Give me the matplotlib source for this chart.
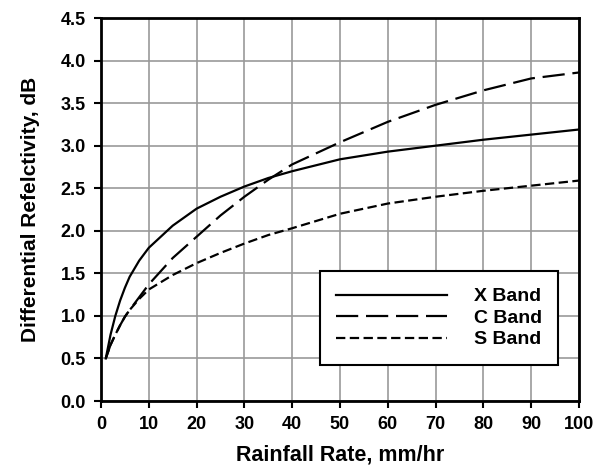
import numpy as np
import matplotlib.pyplot as plt

# Data
rain_rate = [1, 2, 3, 4, 5, 6, 8, 10, 15, 20, 25, 30, 35, 40, 50, 60, 70, 80, 90, 100]
x_band = [0.5, 0.78, 1.0, 1.18, 1.33, 1.46, 1.65, 1.8, 2.06, 2.26, 2.4, 2.52, 2.62, 2.7,
          2.84, 2.93, 3.0, 3.07, 3.13, 3.19]
c_band = [0.5, 0.66, 0.78, 0.89, 0.99, 1.07, 1.22, 1.37, 1.68, 1.93, 2.18, 2.4, 2.6, 2.78,
          3.04, 3.28, 3.48, 3.65, 3.79, 3.86]
s_band = [0.5, 0.66, 0.78, 0.89, 0.99, 1.07, 1.2, 1.31, 1.48, 1.62, 1.74, 1.85, 1.95, 2.03,
          2.2, 2.32, 2.4, 2.47, 2.53, 2.59]

plt.rcParams['font.family'] = ['Liberation Sans', 'DejaVu Sans']

fig = plt.figure(figsize=(5.99, 4.74), dpi=100)
ax = fig.add_axes([0.1686, 0.154, 0.798, 0.808])

lw = 1.6
ax.plot(rain_rate, x_band, color='black', lw=lw, label='X Band')
ax.plot(rain_rate, c_band, color='black', lw=lw, dashes=(10, 3.5), label='C Band')
ax.plot(rain_rate, s_band, color='black', lw=lw, dashes=(4.2, 2), label='S Band')

ax.set_xlim(0, 100)
ax.set_ylim(0, 4.5)
ax.set_xticks(np.arange(0, 101, 10))
ax.set_yticks(np.arange(0, 4.51, 0.5))
ax.set_yticklabels([f'{v:.1f}' for v in np.arange(0, 4.51, 0.5)])
ax.grid(True, color='#999999', lw=1.2)
ax.set_axisbelow(True)

for s in ax.spines.values():
    s.set_linewidth(2)
ax.tick_params(direction='out', length=5, width=1.5, labelsize=13, pad=6)
for lab in ax.get_xticklabels() + ax.get_yticklabels():
    lab.set_fontweight('bold')

ax.set_xlabel('Rainfall Rate, mm/hr', fontsize=15.5, fontweight='bold', labelpad=8)
ax.set_ylabel('Differential Refelctivity, dB', fontsize=15, fontweight='bold', labelpad=15)

leg = ax.legend(loc='upper left', bbox_to_anchor=(0.458, 0.339),
                handlelength=5.7, handletextpad=1.35, fancybox=False, framealpha=1,
                edgecolor='black', prop={'weight': 'bold', 'size': 14},
                labelspacing=0.2, borderpad=0.85, borderaxespad=0)
leg.get_frame().set_linewidth(1.5)

fig.savefig('out.png', dpi=100)
